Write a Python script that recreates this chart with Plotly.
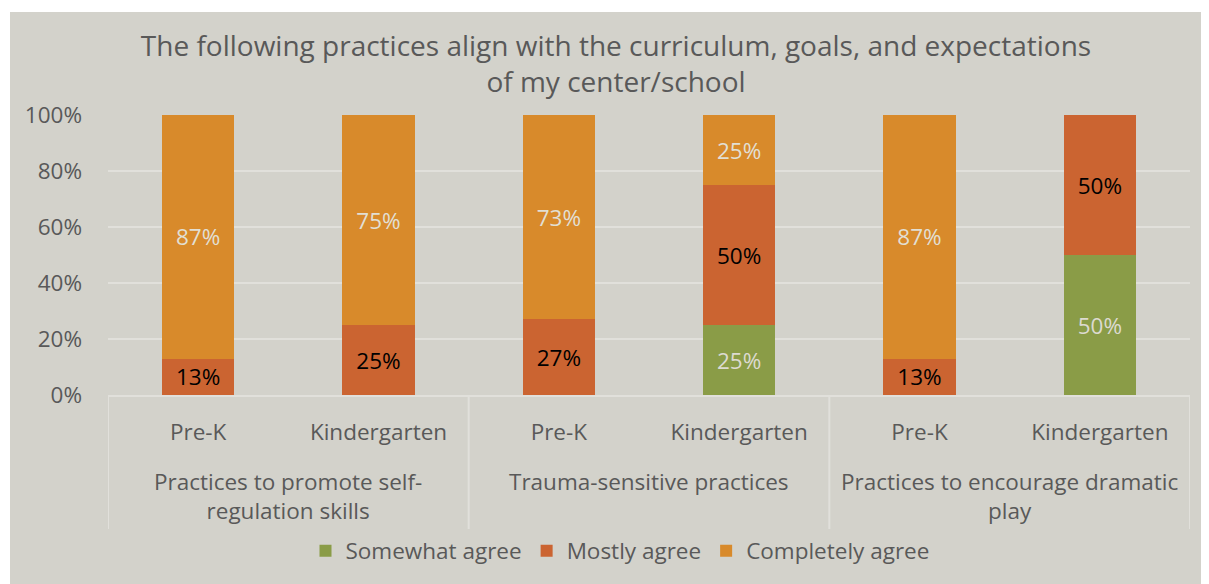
import plotly.graph_objects as go

groups = ["Practices to promote self-<br>regulation skills",
          "Trauma-sensitive practices",
          "Practices to encourage dramatic<br>play"]
levels = ["Pre-K", "Kindergarten"]
inner = [l for _ in groups for l in levels]
pos = list(range(len(inner)))

somewhat = [0, 0, 0, 0.25, 0, 0.50]
mostly = [0.13, 0.25, 0.27, 0.50, 0.13, 0.50]
completely = [0.87, 0.75, 0.73, 0.25, 0.87, 0]

series = [
    ("Somewhat agree", somewhat, "#8A9C47", "#DCDAD0"),
    ("Mostly agree", mostly, "#CB6431", "#000000"),
    ("Completely agree", completely, "#D88A2B", "#E2DFD3"),
]

BG = "#D3D2CB"
GRID = "#E1E0DB"
TXT = "#595959"
FONT = "Open Sans"
FS = 22.5

fig = go.Figure()
for name, vals, col, tcol in series:
    txt = [f"{round(v*100)}%" if v else "" for v in vals]
    fig.add_trace(go.Bar(
        x=pos, y=vals, name=name,
        marker=dict(color=col, line=dict(width=0)),
        text=txt, textposition="inside", insidetextanchor="middle",
        textfont=dict(color=tcol, size=FS, family=FONT),
        constraintext="none", hoverinfo="skip",
    ))

W, H = 1201, 576
L, T, R, B = 100, 107, 19, 189
PW, PH = W - L - R, H - T - B

fig.update_layout(
    barmode="stack", bargap=0.6,
    width=W, height=H,
    margin=dict(l=L, r=R, t=T, b=B),
    paper_bgcolor="white", plot_bgcolor=BG,
    font=dict(family=FONT, color=TXT, size=FS),
    title=dict(text="The following practices align with the curriculum, goals, and expectations<br>of my center/school",
               xref="paper", x=(608 - L) / PW, xanchor="center",
               yref="container", y=1 - 48 / H, yanchor="top",
               font=dict(size=28, color=TXT, family=FONT)),
    legend=dict(orientation="h", x=(612 - L) / PW, xanchor="center",
                y=-156 / PH, yanchor="middle",
                font=dict(size=FS, color=TXT), traceorder="normal",
                bgcolor="rgba(0,0,0,0)", itemwidth=30),
    uniformtext=dict(minsize=FS, mode="show"),
    showlegend=True,
)
# chart background panel
fig.add_shape(type="rect", xref="paper", yref="paper",
              x0=(2 - L) / PW, x1=1.05, y0=-0.75, y1=(T + PH - 4) / PH,
              fillcolor=BG, line=dict(width=0), layer="below")

# group dividers and group labels
div_len = -134 / PH
for b in [-0.5, 1.5, 3.5, 5.5]:
    fig.add_shape(type="line", xref="x", yref="paper", x0=b, x1=b, y0=0, y1=div_len,
                  line=dict(color=GRID, width=2), layer="below")
for i, g in enumerate(groups):
    fig.add_annotation(text=g, xref="x", yref="paper", x=2 * i + 0.5, y=-69 / PH,
                       xanchor="center", yanchor="top", showarrow=False,
                       font=dict(size=FS, color=TXT, family=FONT))

fig.update_yaxes(range=[0, 1], tickvals=[0, 0.2, 0.4, 0.6, 0.8, 1.0],
                 tickformat=".0%", gridcolor=GRID, gridwidth=2,
                 showline=False, zeroline=False,
                 tickfont=dict(size=FS, color=TXT), ticklabelstandoff=25)
fig.update_xaxes(range=[-0.5, 5.5], tickvals=pos, ticktext=inner,
                 showline=True, linecolor=GRID, linewidth=2, showgrid=False,
                 zeroline=False, tickfont=dict(size=FS, color=TXT), ticks="",
                 ticklabelstandoff=16)

fig.write_html("out.html")
